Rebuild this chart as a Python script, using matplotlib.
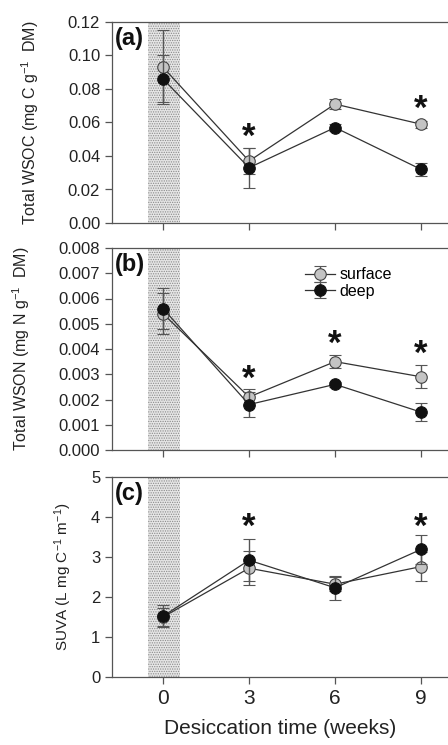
import matplotlib
matplotlib.use("Agg")
import matplotlib.pyplot as plt
import numpy as np

plt.rcParams['font.family'] = ['Liberation Sans', 'DejaVu Sans']
plt.rcParams['hatch.linewidth'] = 0.6
plt.rcParams['mathtext.fontset'] = 'custom'
plt.rcParams['mathtext.rm'] = 'Liberation Sans'
plt.rcParams['mathtext.default'] = 'regular'

weeks = [0, 3, 6, 9]
xticklabels = ['0', '3', '6', '9']

wsoc_surface = [0.093, 0.037, 0.071, 0.059]
wsoc_surface_err = [0.022, 0.008, 0.003, 0.002]
wsoc_deep = [0.086, 0.033, 0.057, 0.032]
wsoc_deep_err = [0.014, 0.012, 0.002, 0.004]
wsoc_stars_x = [3, 9]
wsoc_stars_y = [0.051, 0.068]

wson_surface = [0.0054, 0.0021, 0.0035, 0.0029]
wson_surface_err = [0.0008, 0.0003, 0.00025, 0.00045]
wson_deep = [0.0056, 0.0018, 0.0026, 0.0015]
wson_deep_err = [0.0008, 0.00048, 0.0001, 0.00035]
wson_stars_x = [3, 6, 9]
wson_stars_y = [0.0028, 0.0042, 0.0038]

suva_surface = [1.50, 2.72, 2.32, 2.76]
suva_surface_err = [0.23, 0.43, 0.18, 0.37]
suva_deep = [1.52, 2.92, 2.23, 3.19]
suva_deep_err = [0.27, 0.52, 0.30, 0.37]
suva_stars_x = [3, 9]
suva_stars_y = [3.75, 3.75]

fig = plt.figure(figsize=(4.48, 7.45), dpi=100)
H = 745.0
W = 448.0
def add_ax(top_px, bot_px):
    return fig.add_axes([112 / W, 1 - bot_px / H, (W - 112) / W, (bot_px - top_px) / H])

axa = add_ax(22, 223)
axb = add_ax(248, 450)
axc = add_ax(477, 677)

spine_col = '#555555'
line_col = '#333333'

def draw(ax, s, se, d, de, ylim, yticks, yfmt, ylabel, label, sx, sy, ylsize, lpad):
    ax.set_xlim(-1.78, 9.94)
    ax.set_ylim(*ylim)
    ax.axvspan(-0.52, 0.60, ymin=0, ymax=1, facecolor='#e6e6e6', edgecolor='#8a8a8a',
               hatch='.......', lw=0, zorder=0)
    ax.errorbar(weeks, s, yerr=se, color=line_col, ecolor='#555555', elinewidth=1,
                capsize=4, capthick=1, marker='o', markersize=8.3, mfc='#c4c4c4',
                mec='#444444', mew=0.8, lw=0.9, zorder=3, label='surface')
    ax.errorbar(weeks, d, yerr=de, color=line_col, ecolor='#555555', elinewidth=1,
                capsize=4, capthick=1, marker='o', markersize=8.3, mfc='#111111',
                mec='#111111', mew=0.8, lw=0.9, zorder=4, label='deep')
    for x, y in zip(sx, sy):
        ax.text(x, y, '*', ha='center', va='center', fontsize=25, fontweight='bold', color='#111111')
    ax.set_xticks(weeks)
    ax.set_yticks(yticks)
    ax.set_yticklabels([yfmt.format(v) for v in yticks], fontsize=12, color='#222222')
    for sp in ['left', 'bottom', 'top']:
        ax.spines[sp].set_color(spine_col)
        ax.spines[sp].set_linewidth(0.9)
    ax.spines['right'].set_visible(False)
    ax.tick_params(axis='both', direction='out', length=5, color=spine_col, width=0.9)
    ax.set_ylabel(ylabel, fontsize=ylsize, color='#222222', labelpad=lpad)
    ax.text(0.01, 0.975, label, transform=ax.transAxes, ha='left', va='top',
            fontsize=17, fontweight='bold', color='#111111')

draw(axa, wsoc_surface, wsoc_surface_err, wsoc_deep, wsoc_deep_err,
     (0, 0.12), np.arange(0, 0.121, 0.02), '{:.2f}',
     'Total WSOC (mg C g$^{-1}$  DM)', '(a)', wsoc_stars_x, wsoc_stars_y, 11.5, 19)
draw(axb, wson_surface, wson_surface_err, wson_deep, wson_deep_err,
     (0, 0.008), np.arange(0, 0.0081, 0.001), '{:.3f}',
     'Total WSON (mg N g$^{-1}$  DM)', '(b)', wson_stars_x, wson_stars_y, 11.5, 19)
draw(axc, suva_surface, suva_surface_err, suva_deep, suva_deep_err,
     (0, 5), [0, 1, 2, 3, 4, 5], '{:.0f}',
     'SUVA (L mg C$^{-1}$ m$^{-1}$)', '(c)', suva_stars_x, suva_stars_y, 11, 12)

for ax in (axa, axb):
    ax.set_xticklabels([])
axc.set_xticklabels(xticklabels, fontsize=15, color='#222222')
axc.set_xlabel('Desiccation time (weeks)', fontsize=15, color='#222222', labelpad=8)

axb.legend(loc='upper left', bbox_to_anchor=(0.54, 0.96), frameon=False, fontsize=11.5,
           handlelength=1.9, handletextpad=0.3, labelspacing=0.1, borderpad=0.2)

fig.savefig('out.png', dpi=100)
